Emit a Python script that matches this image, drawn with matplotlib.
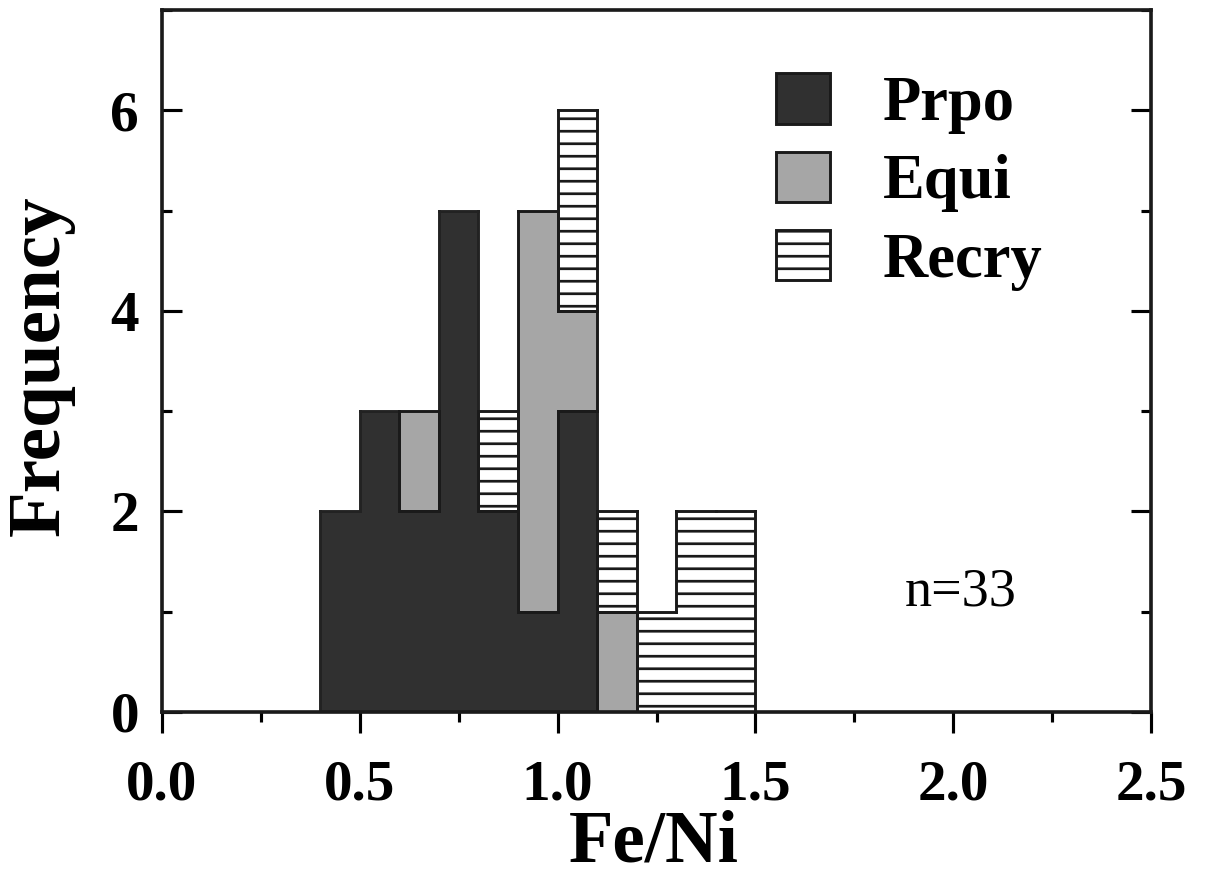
import numpy as np
import matplotlib.pyplot as plt
from matplotlib.ticker import MultipleLocator

# bin edges (Fe/Ni), width 0.1
bin_left = [0.4, 0.5, 0.6, 0.7, 0.8, 0.9, 1.0, 1.1, 1.2, 1.3, 1.4]
prpo = [2, 3, 2, 5, 2, 1, 3, 0, 0, 0, 0]
equi = [0, 0, 1, 0, 0, 4, 1, 1, 0, 0, 0]
recry = [0, 0, 0, 0, 1, 0, 2, 1, 1, 2, 2]
labels = ['Prpo', 'Equi', 'Recry']
x_ticks = [0.0, 0.5, 1.0, 1.5, 2.0, 2.5]
y_ticks = [0, 2, 4, 6]
width = 0.1

plt.rcParams['font.family'] = 'Liberation Serif'
plt.rcParams['hatch.linewidth'] = 2.6

EDGE = '#1a1a1a'


def minus(a, b, c, d):
    # interval [a, b] without [c, d]
    if d <= a or c >= b:
        return [(a, b)]
    parts = []
    if c > a:
        parts.append((a, c))
    if d < b:
        parts.append((d, b))
    return parts


def outline(ax, bottoms, heights, color, lw):
    # outline of the merged shape of one series (no inner edges)
    n = len(heights)
    for i in range(n):
        if heights[i] <= 0:
            continue
        x0 = bin_left[i]
        x1 = x0 + width
        b = bottoms[i]
        t = b + heights[i]
        ax.hlines([b, t], x0, x1, colors=color, linewidth=lw, capstyle='projecting')
        for j, x in ((i - 1, x0), (i + 1, x1)):
            if 0 <= j < n and heights[j] > 0:
                parts = minus(b, t, bottoms[j], bottoms[j] + heights[j])
            else:
                parts = [(b, t)]
            for lo, hi in parts:
                ax.vlines(x, lo, hi, colors=color, linewidth=lw, capstyle='projecting')


# dpi 75 so that the '-' hatch spacing is ~12 px like the scan
fig = plt.figure(figsize=(1210 / 75, 883 / 75), dpi=75)
ax = fig.add_axes([162 / 1210, 1 - 712 / 883, (1151 - 162) / 1210, (712 - 10) / 883])

prpo = np.array(prpo)
equi = np.array(equi)
recry = np.array(recry)

ax.bar(bin_left, prpo, width=width, align='edge', color='#303030',
       edgecolor='#222222', linewidth=0, label=labels[0])
ax.bar(bin_left, equi, width=width, align='edge', bottom=prpo, color='#a6a6a6',
       edgecolor=EDGE, linewidth=0, label=labels[1])
ax.bar(bin_left, recry, width=width, align='edge', bottom=prpo + equi, color='white',
       edgecolor=EDGE, linewidth=0, hatch='-', label=labels[2])
outline(ax, np.zeros(len(prpo)), prpo, '#222222', 2.8)
outline(ax, prpo, equi, EDGE, 2.8)
outline(ax, prpo + equi, recry, EDGE, 2.8)

ax.set_xlim(0, 2.5)
ax.set_ylim(0, 7)
ax.set_xticks(x_ticks)
ax.set_xticklabels(['%.1f' % v for v in x_ticks])
ax.set_yticks(y_ticks)
ax.xaxis.set_minor_locator(MultipleLocator(0.25))
ax.yaxis.set_minor_locator(MultipleLocator(1))

ax.tick_params(axis='y', which='both', direction='in', left=True, right=True, width=3)
ax.tick_params(axis='y', which='major', length=19, pad=22, labelsize=55)
ax.tick_params(axis='y', which='minor', length=10)
ax.tick_params(axis='x', which='both', direction='out', top=False, width=3)
ax.tick_params(axis='x', which='major', length=20, pad=26, labelsize=55)
ax.tick_params(axis='x', which='minor', length=10)
for lab in ax.get_xticklabels() + ax.get_yticklabels():
    lab.set_fontweight('bold')

for sp in ax.spines.values():
    sp.set_linewidth(3.5)
    sp.set_color(EDGE)

ax.set_xlabel('Fe/Ni', fontsize=70, fontweight='bold')
ax.xaxis.set_label_coords(0.497, -0.139)
ax.set_ylabel('Frequency', fontsize=72, fontweight='bold')
ax.yaxis.set_label_coords(-0.088, 0.494)

ax.text(2.02, 1.19, 'n=33', fontsize=52, ha='center', va='center')

leg = ax.legend(loc='upper left', bbox_to_anchor=(0.577, 0.972), frameon=False,
                prop={'size': 60, 'weight': 'bold'}, handlelength=0.85, handleheight=0.86,
                handletextpad=0.85, labelspacing=0.28, borderpad=0.2)
for h in leg.legend_handles:
    h.set_linewidth(2.8)
    h.set_edgecolor(EDGE)

fig.savefig('out.png', dpi=75)
